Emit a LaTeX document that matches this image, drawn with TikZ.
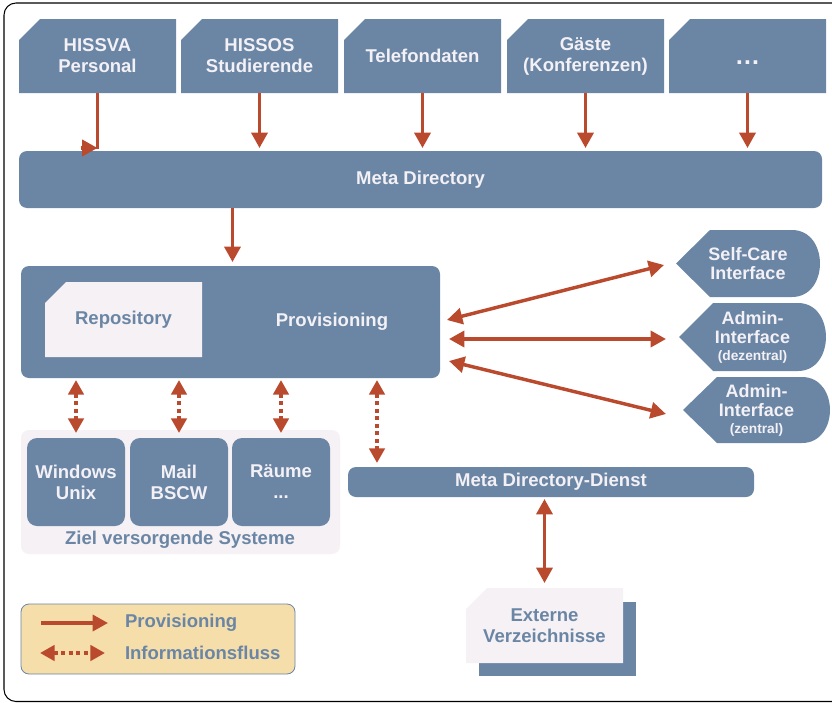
\documentclass[tikz,border=0pt]{standalone}
\usepackage{fontspec}
\setmainfont{Liberation Sans}
\usetikzlibrary{arrows.meta,backgrounds,calc}

\definecolor{boxblue}{RGB}{106,134,164}
\definecolor{lighttext}{RGB}{243,240,246}
\definecolor{palefill}{RGB}{246,241,245}
\definecolor{rust}{RGB}{186,74,46}
\definecolor{legendfill}{RGB}{246,222,171}

\newcommand\smalltxt{\fontsize{10.3}{12}\selectfont}

\tikzset{
  lbl/.style={font=\fontsize{13.9}{15.8}\selectfont\bfseries, align=center, inner sep=0pt, outer sep=0pt},
  srcbox/.style={lbl, text=lighttext, minimum width=117.75pt, minimum height=55.5pt},
  bar/.style={lbl, text=lighttext, fill=boxblue, rounded corners=6pt},
  sysbox/.style={lbl, text=lighttext, fill=boxblue, rounded corners=7.5pt, minimum width=73.5pt, minimum height=66pt},
  paletext/.style={lbl, text=boxblue},
  uibox/.style={font=\fontsize{13.5}{14.3}\selectfont\bfseries, align=center, inner sep=0pt, outer sep=0pt, text=lighttext},
  provarrow/.style={draw=rust, line width=2.6pt, -{Triangle[length=11.5pt,width=12pt]}},
  provboth/.style={draw=rust, line width=2.6pt, {Triangle[length=11.5pt,width=12pt]}-{Triangle[length=11.5pt,width=12pt]}},
  infoboth/.style={draw=rust, line width=3pt, dash pattern=on 3.2pt off 2.4pt, {Triangle[length=11pt,width=11.5pt]}-{Triangle[length=11pt,width=11.5pt]}},
}

\begin{document}
\begin{tikzpicture}[x=0.75pt,y=-0.75pt]
\useasboundingbox (0,0) rectangle (832,703);

% outer frame
\draw[line width=0.8pt, rounded corners=9pt] (4,3) rectangle (845,701.5);

% source systems
\node[srcbox] (hissva)  at (97.5,56)  {HISSVA\\Personal};
\node[srcbox] (hissos)  at (259.5,56) {HISSOS\\Studierende};
\node[srcbox] (telefon) at (422.5,56) {Telefondaten};
\node[srcbox] (gaeste)  at (585.5,56) {Gäste\\(Konferenzen)};
\node[srcbox, text height=12pt, text depth=0pt] (more) at (747.5,56) {\fontsize{19}{19}\selectfont …};

% meta directory
\node[bar, minimum width=602.25pt, minimum height=42.75pt] (meta) at (420.5,179.5) {Meta Directory};

% provisioning block with repository
\node[lbl, minimum width=314.25pt, minimum height=84pt] (prov) at (230.5,322) {};
\node[lbl, text=lighttext] (provtext) at (332,322) {Provisioning};
\node[paletext, minimum width=117.75pt, minimum height=56.25pt] (repo) at (123.5,319.5) {Repository};

% target systems
\node[lbl, fill=palefill, rounded corners=6pt, minimum width=239.25pt, minimum height=93pt] (ziel) at (180.5,492) {};
\node[sysbox] (win)  at (76,482)  {Windows\\Unix};
\node[sysbox] (mail) at (179,482) {Mail\\BSCW};
\node[sysbox] (raum) at (281,482) {Räume\\...};
\node[paletext] (zieltext) at (180,540) {Ziel versorgende Systeme};

% meta directory service and external directories
\node[bar, minimum width=304.5pt, minimum height=22.5pt] (dienst) at (551,482) {Meta Directory-Dienst};
\node[paletext, minimum width=117.75pt, minimum height=56.25pt] (ext) at (544.5,625.5) {Externe\\Verzeichnisse};

% interfaces
\node[uibox, minimum width=108pt, minimum height=50.25pt] (sc) at (748,263.5) {Self-Care\\Interface};
\node[uibox, minimum width=110.25pt, minimum height=51pt] (adz) at (752.5,337) {Admin-\\Interface\\[-1.5pt]{\smalltxt(dezentral)}};
\node[uibox, minimum width=110.25pt, minimum height=49.5pt] (az) at (756.5,410) {Admin-\\Interface\\[-1.5pt]{\smalltxt(zentral)}};

% legend
\node[lbl, fill=legendfill, draw=boxblue, line width=0.6pt, rounded corners=6pt, minimum width=205.5pt, minimum height=52.5pt] (legend) at (158,639) {};
\coordinate (lp1) at (41,623);
\coordinate (lp2) at (108,623);
\coordinate (li1) at (40,653);
\coordinate (li2) at (105,653);
\node[paletext, anchor=west] (legprov) at (125,623) {Provisioning};
\node[paletext, anchor=west] (leginfo) at (125,653) {Informationsfluss};

% shaped fills behind the node texts
\begin{scope}[on background layer]
  \foreach \n in {hissva,hissos,telefon,gaeste,more}
    \fill[boxblue] ([shift={(0,21)}]\n.north west) -- ([shift={(21,0)}]\n.north west)
      -- (\n.north east) -- (\n.south east) -- (\n.south west) -- cycle;
  \fill[boxblue, rounded corners=6pt] (prov.north west) rectangle (prov.south east);
  \fill[palefill] ([shift={(0,21)}]repo.north west) -- ([shift={(21,0)}]repo.north west)
      -- (repo.north east) -- (repo.south east) -- (repo.south west) -- cycle;
  \fill[boxblue] ([shift={(13,14)}]ext.north west) rectangle ([shift={(13,13)}]ext.south east);
  \fill[palefill] ([shift={(0,21)}]ext.north west) -- ([shift={(21,0)}]ext.north west)
      -- (ext.north east) -- (ext.south east) -- (ext.south west) -- cycle;
  \foreach \n in {sc,adz,az}
    \fill[boxblue] (\n.west) -- ([shift={(34,0)}]\n.north west)
      -- ([shift={(-28,0)}]\n.north east)
      .. controls ([shift={(9.3,0)}]\n.north east) and ([shift={(9.3,0)}]\n.south east)
      .. ([shift={(-28,0)}]\n.south east)
      -- ([shift={(34,0)}]\n.south west) -- cycle;
\end{scope}

% provisioning arrows from the sources
\draw[draw=rust, line width=2.6pt] (hissva.south) -- ([shift={(0,-2)}]hissva.south |- meta.north);
\draw[provarrow] ([shift={(-17,-3)}]hissva.south |- meta.north) -- ([shift={(0,-3)}]hissva.south |- meta.north);
\foreach \n in {hissos,telefon,gaeste,more}
  \draw[provarrow, shorten >=2.25pt] (\n.south) -- (\n.south |- meta.north);
\draw[provarrow, shorten >=3pt] ([shift={(2,0)}]prov.north |- meta.south) -- ([shift={(2,0)}]prov.north);

% provisioning to the interfaces
\draw[provboth] ([shift={(7,-2)}]prov.east) -- ([shift={(-12,1.5)}]sc.west);
\draw[provboth] ([shift={(9,17)}]prov.east) -- ([shift={(-13,2)}]adz.west);
\draw[provboth] ([shift={(9,39)}]prov.east) -- ([shift={(-17,4)}]az.west);

% information flow to the target systems
\foreach \n in {win,mail,raum}
  \draw[infoboth, shorten <=1.5pt, shorten >=3.75pt] (\n.north |- prov.south) -- (\n.north);
\coordinate (dcol) at (377,0);
\draw[infoboth, shorten <=1.5pt, shorten >=3pt] (prov.south -| dcol) -- (dienst.north -| dcol);

% service to external directories
\draw[provboth, shorten <=1.5pt, shorten >=3.75pt] (ext.north |- dienst.south) -- (ext.north);

% legend arrows
\draw[provarrow] (lp1) -- (lp2);
\draw[infoboth] (li1) -- (li2);
\end{tikzpicture}
\end{document}
